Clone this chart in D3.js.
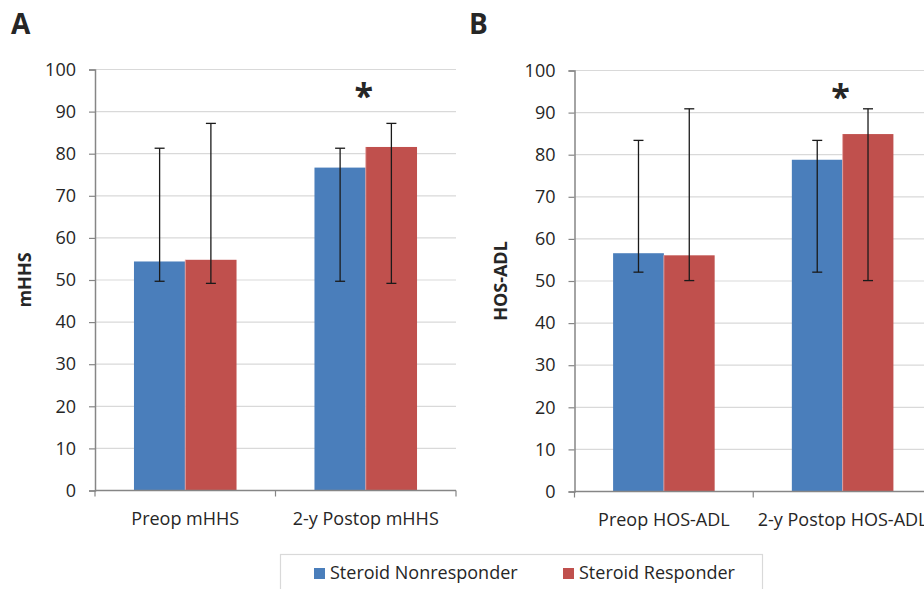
<!DOCTYPE html>
<html>
<head>
<meta charset="utf-8">
<script src="https://cdn.jsdelivr.net/npm/d3@7"></script>
<style>
  body { margin: 0; background: #fff; }
  svg text { font-family: "Open Sans", sans-serif; fill: #262626; }
</style>
</head>
<body>
<div id="chart"></div>
<script>
const width = 924;
const height = 589;

const seriesNames = ["Steroid Nonresponder", "Steroid Responder"];
const seriesColors = ["#4a7ebb", "#c0504d"];
const yTicks = [0, 10, 20, 30, 40, 50, 60, 70, 80, 90, 100];

// panel A
const catsA = ["Preop mHHS", "2-y Postop mHHS"];
const meanA = [[54.4, 76.7], [54.8, 81.6]];
const lowA = [[49.7, 49.7], [49.2, 49.2]];
const highA = [[81.3, 81.3], [87.2, 87.2]];
const starA = [false, true];

// panel B
const catsB = ["Preop HOS-ADL", "2-y Postop HOS-ADL"];
const meanB = [[56.6, 78.8], [56.1, 84.9]];
const lowB = [[52.1, 52.1], [50.1, 50.1]];
const highB = [[83.4, 83.4], [90.9, 90.9]];
const starB = [false, true];

const svg = d3.select("#chart")
  .append("svg")
  .attr("width", width)
  .attr("height", height);

function panel(opts) {
  const g = svg.append("g");
  const y = d3.scaleLinear().domain([0, 100]).range([opts.bottom, opts.top]);
  const x = d3.scaleBand().domain(opts.cats).range([opts.left, opts.right]);
  const xs = d3.scaleBand().domain(d3.range(seriesNames.length))
    .range([0, x.bandwidth()]).paddingInner(0).paddingOuter(0.76);

  // gridlines
  g.append("g").selectAll("line").data(yTicks.filter(d => d > 0)).join("line")
    .attr("x1", opts.left).attr("x2", opts.right)
    .attr("y1", d => y(d)).attr("y2", d => y(d))
    .attr("stroke", "#d9d9d9").attr("stroke-width", 1.2);

  // bars
  seriesNames.forEach((s, si) => {
    g.append("g").selectAll("rect").data(opts.cats).join("rect")
      .attr("x", d => x(d) + xs(si))
      .attr("width", xs.bandwidth())
      .attr("y", (d, i) => y(opts.mean[si][i]))
      .attr("height", (d, i) => y(0) - y(opts.mean[si][i]))
      .attr("fill", seriesColors[si]);
  });
  // thin light separator between bar pairs
  g.append("g").selectAll("line").data(opts.cats).join("line")
    .attr("x1", d => x(d) + xs(1)).attr("x2", d => x(d) + xs(1))
    .attr("y1", (d, i) => y(opts.mean[1][i])).attr("y2", y(0))
    .attr("stroke", "#e8a6a4").attr("stroke-width", 0.8);

  // error bars
  seriesNames.forEach((s, si) => {
    const eg = g.append("g").attr("stroke", "#1a1a1a").attr("stroke-width", 1.3);
    opts.cats.forEach((c, i) => {
      const cx = x(c) + xs(si) + xs.bandwidth() / 2;
      eg.append("line").attr("x1", cx).attr("x2", cx)
        .attr("y1", y(opts.low[si][i])).attr("y2", y(opts.high[si][i]));
      [opts.low[si][i], opts.high[si][i]].forEach(v => {
        eg.append("line").attr("x1", cx - 5).attr("x2", cx + 5)
          .attr("y1", y(v)).attr("y2", y(v));
      });
    });
  });

  // axes
  const yAxis = g.append("g")
    .attr("transform", `translate(${opts.left},0)`)
    .call(d3.axisLeft(y).tickValues(yTicks).tickSize(6).tickPadding(13));
  yAxis.select(".domain").attr("stroke", "#868686").attr("stroke-width", 1.5);
  yAxis.selectAll(".tick line").attr("stroke", "#868686").attr("stroke-width", 1.2);
  yAxis.selectAll(".tick text").attr("font-size", 18).attr("fill", "#262626")
    .attr("font-family", "'Open Sans', sans-serif");

  const xg = g.append("g");
  xg.append("line").attr("x1", opts.left).attr("x2", opts.right)
    .attr("y1", y(0)).attr("y2", y(0))
    .attr("stroke", "#868686").attr("stroke-width", 1.5);
  const edges = opts.cats.map(c => x(c)).concat([opts.right]);
  xg.selectAll("line.tk").data(edges).join("line").attr("class", "tk")
    .attr("x1", d => d).attr("x2", d => d)
    .attr("y1", y(0)).attr("y2", y(0) + 6)
    .attr("stroke", "#868686").attr("stroke-width", 1.2);
  xg.selectAll("text").data(opts.cats).join("text")
    .attr("x", d => x(d) + x.bandwidth() / 2)
    .attr("y", y(0) + 34)
    .attr("text-anchor", "middle")
    .attr("font-size", 18)
    .text(d => d);

  // asterisks
  g.selectAll("text.star").data(opts.cats.filter((c, i) => opts.star[i])).join("text")
    .attr("class", "star")
    .attr("x", d => x(d) + x.bandwidth() / 2 - 2)
    .attr("y", opts.top + 38)
    .attr("text-anchor", "middle")
    .attr("font-size", 34)
    .attr("font-weight", "bold")
    .attr("font-family", "Arial, Liberation Sans, sans-serif")
    .attr("fill", "#1a1a1a")
    .text("*");

  // y title
  g.append("text")
    .attr("transform", `translate(${opts.titleX},${(opts.top + opts.bottom) / 2}) rotate(-90)`)
    .attr("text-anchor", "middle")
    .attr("font-size", 18)
    .attr("font-weight", "bold")
    .attr("font-family", "Liberation Sans, Arial, sans-serif")
    .attr("fill", "#000")
    .text(opts.title);

  // panel letter
  g.append("text")
    .attr("x", opts.letterX).attr("y", 34)
    .attr("font-size", 28)
    .attr("font-weight", "bold")
    .attr("font-family", "Liberation Sans, Arial, sans-serif")
    .attr("fill", "#000")
    .text(opts.letter);
}

panel({ cats: catsA, mean: meanA, low: lowA, high: highA, star: starA,
  left: 95, right: 456, top: 69.5, bottom: 490.5, title: "mHHS", titleX: 31,
  letter: "A", letterX: 11 });
panel({ cats: catsB, mean: meanB, low: lowB, high: highB, star: starB,
  left: 574.5, right: 932, top: 70.5, bottom: 491.5, title: "HOS-ADL", titleX: 507,
  letter: "B", letterX: 469 });

// legend
const lg = svg.append("g");
lg.append("rect").attr("x", 280.5).attr("y", 554.5).attr("width", 482).attr("height", 50)
  .attr("fill", "#fff").attr("stroke", "#d9d9d9").attr("stroke-width", 1.2);
const legX = [314, 563];
seriesNames.forEach((s, i) => {
  lg.append("rect").attr("x", legX[i]).attr("y", 568).attr("width", 11).attr("height", 11)
    .attr("fill", seriesColors[i]);
  lg.append("text").attr("x", legX[i] + 16).attr("y", 579)
    .attr("font-size", 18).text(s);
});
</script>
</body>
</html>
